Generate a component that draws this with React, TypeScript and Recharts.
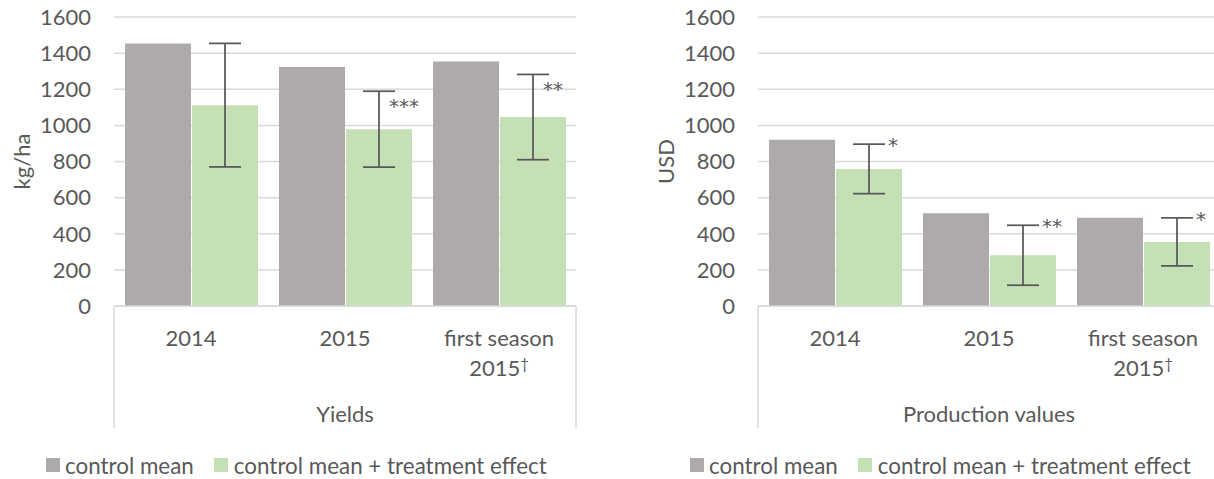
import React from 'react';
import { BarChart, Bar, XAxis, YAxis, CartesianGrid, ErrorBar, LabelList, Legend, Label } from 'recharts';

// ---- data ----
const categories = ['2014', '2015', 'first season\n2015\u2020'];
const seriesNames = ['control mean', 'control mean + treatment effect'];
const yTicks = [0, 200, 400, 600, 800, 1000, 1200, 1400, 1600];

const yieldControl = [1453, 1323, 1354];
const yieldTreated = [1112, 979, 1046];
const yieldError = [342, 210, 236];
const yieldStars = ['', '***', '**'];

const valueControl = [920, 514, 488];
const valueTreated = [759, 281, 355];
const valueError = [137, 166, 133];
const valueStars = ['*', '**', '*'];

// ---- style ----
const FONT = 'Lato, "Noto Sans", sans-serif';
const STAR_FONT = '"DejaVu Sans", sans-serif';
const FS = 22;
const TXT = '#595959';
const GRID = '#D9D9D9';
const GREY = '#AEAAAA';
const GREEN = '#C5E0B4';

const buildRows = (ctrl: number[], trt: number[], err: number[]) =>
  categories.map((c, i) => ({ name: c, control: ctrl[i], treated: trt[i], err: err[i] }));

const renderLine = (l: string) => {
  const parts = l.split('\u2020');
  if (parts.length === 1) return l;
  return (
    <>
      {parts[0]}
      <tspan fontSize={15} dy={-4}>{'\u2020'}</tspan>
      {parts[1]}
    </>
  );
};

const CategoryTick = (props: any) => {
  const { x, y, payload } = props;
  const lines = String(payload.value).split('\n');
  return (
    <g>
      {lines.map((l: string, i: number) => (
        <text key={i} x={x} y={y + 31 + i * 30} textAnchor="middle" dominantBaseline="central"
          fill={TXT} fontSize={FS} fontFamily={FONT}>{renderLine(l)}</text>
      ))}
    </g>
  );
};

const GroupLabel = (text: string) => (props: any) => {
  const vb = props.viewBox || {};
  const { x, y, width, height } = vb;
  return (
    <g>
      <line x1={x} y1={y} x2={x} y2={y + height} stroke={GRID} strokeWidth={1.5} />
      <line x1={x + width} y1={y} x2={x + width} y2={y + height} stroke={GRID} strokeWidth={1.5} />
      <text x={x + width / 2} y={y + 107} textAnchor="middle" dominantBaseline="central"
        fill={TXT} fontSize={FS} fontFamily={FONT}>{text}</text>
    </g>
  );
};

const YTitle = (text: string) => (props: any) => {
  const vb = props.viewBox || {};
  const cx = vb.x + 21;
  const cy = vb.y + vb.height / 2;
  return (
    <text x={cx} y={cy} transform={`rotate(-90, ${cx}, ${cy})`} textAnchor="middle" dominantBaseline="central"
      fill={TXT} fontSize={FS} fontFamily={FONT}>{text}</text>
  );
};

const StarLabel = (stars: string[], errors: number[], dx: number, dy: number) => (props: any) => {
  const { x, y, width, height, value, index } = props;
  const s = stars[index];
  if (!s) return null;
  const k = Number(height) / Number(value);
  const top = Number(y) - errors[index] * k;
  return (
    <text x={Number(x) + Number(width) / 2 + dx} y={top + dy} textAnchor="start"
      fill={TXT} fontSize={20} fontFamily={STAR_FONT}>{s}</text>
  );
};

const LegendContent = () => (
  <div style={{
    display: 'flex', alignItems: 'center', height: 51, paddingTop: 23, boxSizing: 'border-box',
    paddingLeft: 46, fontFamily: FONT, fontSize: 22.4, color: TXT, whiteSpace: 'nowrap',
  }}>
    <span style={{ display: 'inline-block', width: 14, height: 14, background: GREY, marginRight: 5 }} />
    <span style={{ marginRight: 20 }}>{seriesNames[0]}</span>
    <span style={{ display: 'inline-block', width: 14, height: 14, background: GREEN, marginRight: 6 }} />
    <span>{seriesNames[1]}</span>
  </div>
);

type PanelProps = {
  ctrl: number[]; trt: number[]; err: number[]; stars: string[];
  yTitle: string; group: string; starDx: number; starDy: number;
};

const Panel = ({ ctrl, trt, err, stars, yTitle, group, starDx, starDy }: PanelProps) => {
  const rows = buildRows(ctrl, trt, err);
  return (
    <BarChart width={607} height={479} data={rows} margin={{ top: 17, right: 31, bottom: 0, left: 0 }}
      barCategoryGap={11} barGap={1}>
      <CartesianGrid vertical={false} stroke={GRID} strokeWidth={1.5} />
      <XAxis dataKey="name" height={122} tickLine={false} tickSize={0} tickMargin={0} interval={0}
        axisLine={{ stroke: GRID, strokeWidth: 1.5 }} tick={<CategoryTick />}>
        <Label content={GroupLabel(group)} />
      </XAxis>
      <YAxis width={114} domain={[0, 1600]} ticks={yTicks} interval={0} axisLine={false} tickLine={false}
        tickSize={0} tickMargin={23} tick={{ fill: TXT, fontSize: FS, fontFamily: FONT }}>
        <Label content={YTitle(yTitle)} />
      </YAxis>
      <Legend verticalAlign="bottom" align="left" content={<LegendContent />}
        wrapperStyle={{ left: 0, width: 607, height: 51 }} />
      <Bar dataKey="control" name={seriesNames[0]} fill={GREY} isAnimationActive={false} />
      <Bar dataKey="treated" name={seriesNames[1]} fill={GREEN} isAnimationActive={false}>
        <ErrorBar dataKey="err" width={16} strokeWidth={1.75} stroke={TXT} isAnimationActive={false} />
        <LabelList dataKey="treated" content={StarLabel(stars, err, starDx, starDy)} />
      </Bar>
    </BarChart>
  );
};

export default function App() {
  return (
    <div style={{ position: 'absolute', left: 0, top: 0, width: 1214, height: 479, overflow: 'hidden', background: '#fff' }}>
      <div style={{ position: 'absolute', left: 0, top: 0 }}>
        <Panel ctrl={yieldControl} trt={yieldTreated} err={yieldError} stars={yieldStars}
          yTitle="kg/ha" group="Yields" starDx={10} starDy={22} />
      </div>
      <div style={{ position: 'absolute', left: 644, top: 0 }}>
        <Panel ctrl={valueControl} trt={valueTreated} err={valueError} stars={valueStars}
          yTitle="USD" group="Production values" starDx={19} starDy={8} />
      </div>
    </div>
  );
}
